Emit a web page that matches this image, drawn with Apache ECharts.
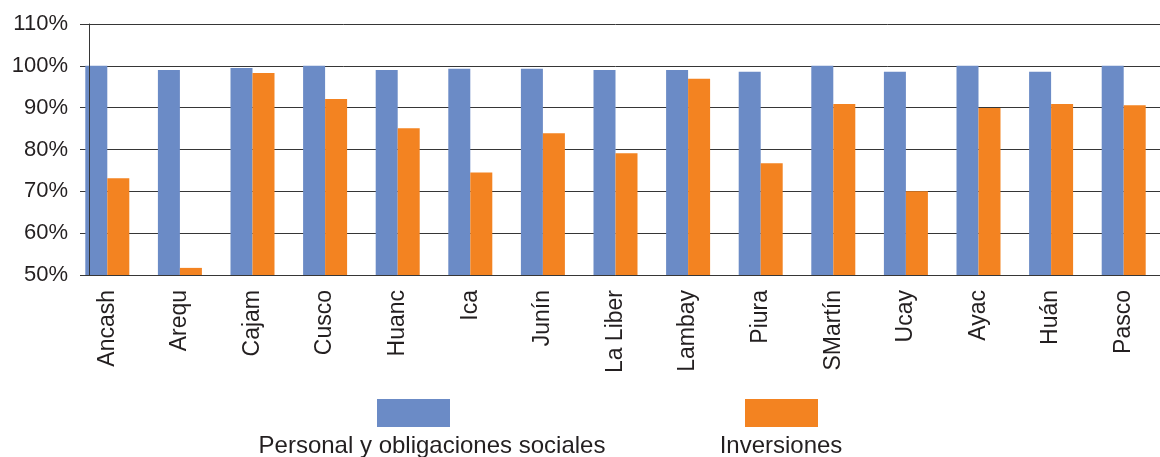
<!DOCTYPE html>
<html>
<head>
<meta charset="utf-8">
<script src="https://cdn.jsdelivr.net/npm/echarts@6/dist/echarts.min.js"></script>
<style>
  html, body { margin: 0; padding: 0; background: #fff; }
  #chart { width: 1160px; height: 457px; }
</style>
</head>
<body>
<div id="chart"></div>
<script>
// Datos del gráfico
var regiones = ['Ancash', 'Arequ', 'Cajam', 'Cusco', 'Huanc', 'Ica', 'Junín', 'La Liber',
    'Lambay', 'Piura', 'SMartín', 'Ucay', 'Ayac', 'Huán', 'Pasco'];
var personal = [100, 99.0, 99.5, 100, 99.0, 99.3, 99.3, 99.0, 99.0, 98.6, 100, 98.6, 100, 98.6, 100];
var inversiones = [73.1, 51.7, 98.3, 92.1, 85.1, 74.5, 83.9, 79.1, 96.9, 76.7, 90.9, 70.0, 89.9, 90.9, 90.6];
var nombres = ['Personal y obligaciones sociales', 'Inversiones'];

var fuente = 'Liberation Sans, Arial, sans-serif';
var texto = '#231f20';
var linea = '#363636';

option = {
    animation: false,
    grid: { left: 71, right: -19, top: 24, bottom: 182 },
    xAxis: {
        type: 'category',
        data: regiones,
        axisLine: { lineStyle: { color: linea, width: 1 } },
        axisTick: { length: 13, lineStyle: { color: linea } },
        axisLabel: {
            rotate: 90,
            margin: 15,
            fontSize: 23,
            fontFamily: fuente,
            color: texto
        }
    },
    yAxis: [
        {
            // escala, etiquetas y cuadrícula
            type: 'value',
            min: 50,
            max: 110,
            interval: 10,
            offset: -18,
            axisLine: { show: false },
            axisTick: { show: false },
            splitLine: { lineStyle: { color: linea, width: 1 } },
            axisLabel: {
                formatter: '{value}%',
                margin: 21,
                fontSize: 22,
                fontFamily: fuente,
                color: texto
            }
        },
        {
            // línea del eje, por encima de las barras
            type: 'value',
            position: 'left',
            min: 50,
            max: 110,
            interval: 10,
            offset: -18,
            z: 50,
            axisLine: { show: true, lineStyle: { color: linea, width: 1 } },
            axisTick: { show: false },
            splitLine: { show: false },
            axisLabel: { show: false }
        }
    ],
    legend: [
        {
            data: [nombres[0]], left: 377, top: 399, padding: 0,
            icon: 'rect', itemWidth: 73, itemHeight: 28,
            formatter: function () { return ''; }
        },
        {
            data: [nombres[1]], left: 745, top: 399, padding: 0,
            icon: 'rect', itemWidth: 73, itemHeight: 28,
            formatter: function () { return ''; }
        }
    ],
    graphic: [
        // tapa el tramo de la cuadrícula a la izquierda de las marcas del eje
        { type: 'rect', x: 68, y: 18, z: 100, shape: { width: 12, height: 275 }, style: { fill: '#fff' } },
        { type: 'text', x: 432, y: 434, z: 100,
          style: { text: nombres[0], align: 'center', verticalAlign: 'top', fontSize: 24, fontFamily: fuente, fill: texto } },
        { type: 'text', x: 781, y: 434, z: 100,
          style: { text: nombres[1], align: 'center', verticalAlign: 'top', fontSize: 24, fontFamily: fuente, fill: texto } }
    ],
    series: [
        {
            name: nombres[0],
            type: 'bar',
            data: personal,
            barWidth: 22,
            barGap: '0%',
            itemStyle: { color: '#6b8bc6' }
        },
        {
            name: nombres[1],
            type: 'bar',
            data: inversiones,
            barWidth: 22,
            itemStyle: { color: '#f38321' }
        }
    ]
};

var myChart = echarts.init(document.getElementById('chart'));
myChart.setOption(option);
</script>
</body>
</html>
